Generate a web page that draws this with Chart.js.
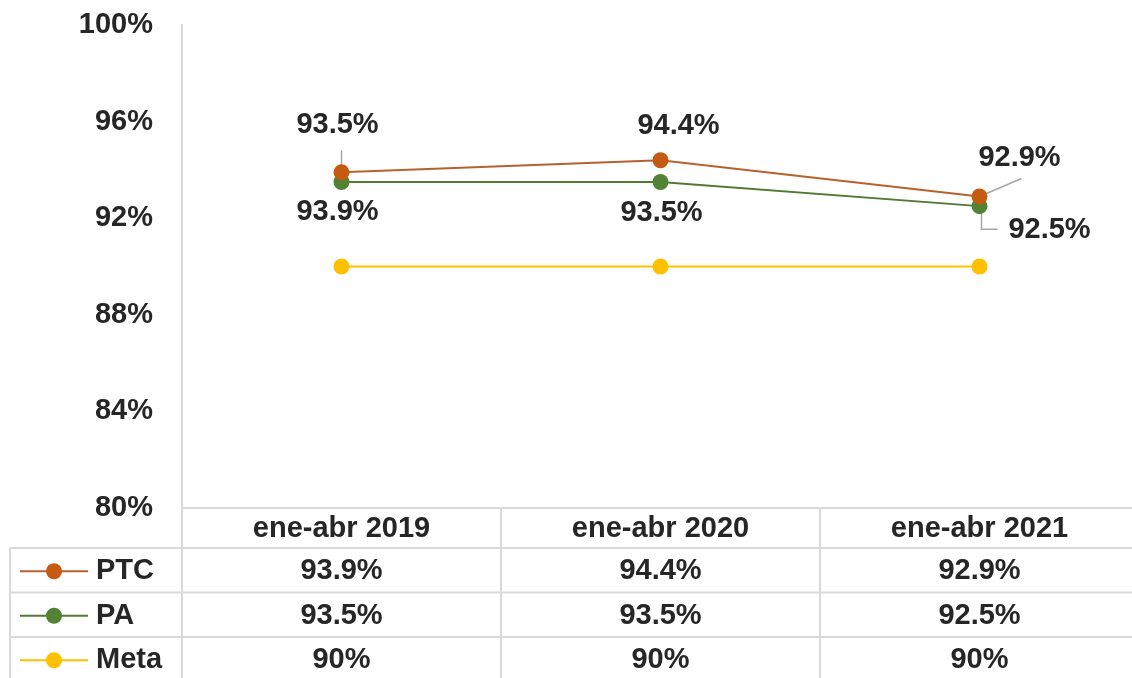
<!DOCTYPE html>
<html>
<head>
<meta charset="utf-8">
<script src="https://cdn.jsdelivr.net/npm/chart.js@4.4.0/dist/chart.umd.min.js"></script>
<style>
  html, body { margin: 0; padding: 0; background: #fff; overflow: hidden; }
  #wrap { width: 1147px; height: 678px; overflow: hidden; }
  #chart { display: block; width: 1147px; height: 678px; }
</style>
</head>
<body>
<div id="wrap"><canvas id="chart" width="1147" height="678"></canvas></div>
<script>
// data
const categories  = ['ene-abr 2019', 'ene-abr 2020', 'ene-abr 2021'];
const ptcValues   = [93.9, 94.4, 92.9];
const paValues    = [93.5, 93.5, 92.5];
const metaValues  = [90, 90, 90];
const yTicks      = [80, 84, 88, 92, 96, 100];
// in-plot labels exactly as printed in the picture
const upperLabels = ['93.5%', '94.4%', '92.9%'];
const lowerLabels = ['93.9%', '93.5%', '92.5%'];

const FONT = '"Liberation Sans", Arial, sans-serif';
const TXT  = '#262626';
const GRID = '#d9d9d9';
const C_PTC = '#c55a11', C_PA = '#548235', C_META = '#ffc000';

const fmtPct = v => (Number.isInteger(v) ? v : v.toFixed(1)) + '%';

const series = [
  { name: 'PTC',  data: ptcValues,  color: C_PTC,  line: '#b5622e' },
  { name: 'PA',   data: paValues,   color: C_PA,   line: '#4e7a33' },
  { name: 'Meta', data: metaValues, color: C_META, line: C_META },
];

// offsets of the in-plot labels relative to their point (style only)
const upperOff = [{ dx: -4, dy: -47 }, { dx: 18, dy: -34 }, { dx: 40, dy: -38 }];
const lowerOff = [{ dx: -4, dy: 30 },  { dx: 1,  dy: 31 },  { dx: 70, dy: 24 }];

const labelPlugin = {
  id: 'pointLabels',
  beforeDatasetsDraw(chart) {
    const ctx = chart.ctx;
    const ptc = chart.getDatasetMeta(0).data;
    const pa  = chart.getDatasetMeta(1).data;
    ctx.save();
    ctx.strokeStyle = '#a6a6a6';
    ctx.lineWidth = 1.5;
    // leader at first category (vertical through both points)
    ctx.beginPath();
    ctx.moveTo(ptc[0].x, ptc[0].y - 22);
    ctx.lineTo(pa[0].x, pa[0].y + 8);
    ctx.stroke();
    // leaders at last category
    ctx.beginPath();
    ctx.moveTo(ptc[2].x + 7, ptc[2].y - 3);
    ctx.lineTo(ptc[2].x + 42, ptc[2].y - 18);
    ctx.stroke();
    ctx.beginPath();
    ctx.moveTo(pa[2].x + 2, pa[2].y + 6);
    ctx.lineTo(pa[2].x + 2, pa[2].y + 23);
    ctx.lineTo(pa[2].x + 18, pa[2].y + 23);
    ctx.stroke();
    ctx.restore();
  },
  afterDatasetsDraw(chart) {
    const ctx = chart.ctx;
    const ptc = chart.getDatasetMeta(0).data;
    const pa  = chart.getDatasetMeta(1).data;
    ctx.save();
    ctx.font = 'bold 29px ' + FONT;
    ctx.fillStyle = TXT;
    ctx.textAlign = 'center';
    ctx.textBaseline = 'middle';
    upperLabels.forEach((t, i) => ctx.fillText(t, ptc[i].x + upperOff[i].dx, ptc[i].y + upperOff[i].dy));
    lowerLabels.forEach((t, i) => ctx.fillText(t, pa[i].x + lowerOff[i].dx, pa[i].y + lowerOff[i].dy));
    ctx.restore();
  }
};

const tablePlugin = {
  id: 'dataTable',
  afterDraw(chart) {
    const { ctx, chartArea: a, scales: { x } } = chart;
    const top = a.bottom, headH = 40, rowH = 44.5, left = 10;
    const rowsTop = top + headH;
    const bottom = rowsTop + rowH * series.length;
    const centers = categories.map((c, i) => x.getPixelForValue(i));
    const bounds = [a.left];
    for (let i = 0; i < centers.length - 1; i++) bounds.push((centers[i] + centers[i + 1]) / 2);
    bounds.push(a.right);

    ctx.save();
    ctx.strokeStyle = GRID;
    ctx.lineWidth = 2;
    ctx.beginPath();
    // horizontal lines
    ctx.moveTo(a.left, top); ctx.lineTo(a.right, top);
    for (let r = 0; r <= series.length; r++) {
      const y = rowsTop + r * rowH;
      ctx.moveTo(left, y); ctx.lineTo(a.right, y);
    }
    // vertical lines
    ctx.moveTo(left, rowsTop); ctx.lineTo(left, bottom);
    bounds.forEach(b => { ctx.moveTo(b, top); ctx.lineTo(b, bottom); });
    ctx.stroke();

    ctx.fillStyle = TXT;
    ctx.font = 'bold 29px ' + FONT;
    ctx.textAlign = 'center';
    ctx.textBaseline = 'middle';
    categories.forEach((c, i) => ctx.fillText(c, centers[i], top + headH / 2 + 1));

    series.forEach((s, r) => {
      const cy = rowsTop + r * rowH + rowH / 2 + 1;
      // legend key
      ctx.strokeStyle = s.line;
      ctx.lineWidth = 2;
      ctx.beginPath(); ctx.moveTo(20, cy); ctx.lineTo(88, cy); ctx.stroke();
      ctx.fillStyle = s.color;
      ctx.beginPath(); ctx.arc(54, cy, 8, 0, Math.PI * 2); ctx.fill();
      ctx.fillStyle = TXT;
      ctx.textAlign = 'left';
      ctx.fillText(s.name, 96, cy);
      ctx.textAlign = 'center';
      s.data.forEach((v, i) => ctx.fillText(fmtPct(v), centers[i], cy));
    });
    ctx.restore();
  }
};

new Chart(document.getElementById('chart'), {
  type: 'line',
  data: {
    labels: categories,
    datasets: series.map(s => ({
      label: s.name,
      data: s.data,
      borderColor: s.line,
      backgroundColor: s.color,
      pointBackgroundColor: s.color,
      pointBorderColor: s.color,
      borderWidth: 2,
      pointRadius: 8,
      pointBorderWidth: 0,
      tension: 0,
      fill: false,
    })),
  },
  options: {
    responsive: false,
    animation: false,
    layout: { padding: { top: 25, right: 1, bottom: 170, left: 0 } },
    plugins: { legend: { display: false }, tooltip: { enabled: false } },
    scales: {
      x: { display: false, offset: true },
      y: {
        min: 80, max: 100,
        afterFit: s => { s.width = 182; s.paddingTop = 0; s.paddingBottom = 0; },
        afterBuildTicks: s => { s.ticks = yTicks.map(v => ({ value: v })); },
        grid: { display: false, drawTicks: false },
        border: { display: true, color: GRID, width: 2 },
        ticks: {
          padding: 29,
          color: TXT,
          font: { family: FONT, size: 29, weight: 'bold' },
          callback: v => v + '%',
        },
      },
    },
  },
  plugins: [labelPlugin, tablePlugin],
});
</script>
</body>
</html>
